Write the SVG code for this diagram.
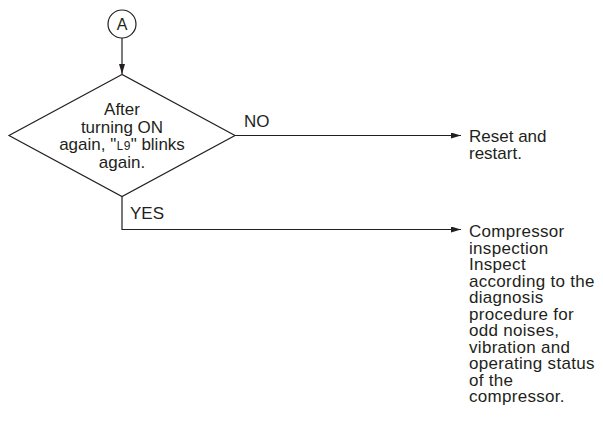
<svg xmlns="http://www.w3.org/2000/svg" width="603" height="425" viewBox="0 0 603 425">
<style>
text { font-family: "Liberation Sans", Arial, sans-serif; font-size: 17px; fill: #231f20; }
.c { text-anchor: middle; }
.ln { fill: none; stroke: #231f20; stroke-width: 1.2; }
</style>
<defs>
<marker id="ah" markerWidth="10" markerHeight="6" refX="10" refY="3" orient="auto" markerUnits="userSpaceOnUse">
<path d="M0,0 L10,3 L0,6 Z" fill="#231f20"/>
</marker>
</defs>
<rect width="603" height="425" fill="#ffffff"/>
<g id="connA">
<circle class="ln" cx="122" cy="24" r="14"/>
<text class="c" x="122" y="30" style="font-size:16px">A</text>
</g>
<g id="decision">
<polygon class="ln" points="122,74.5 9,135.5 122,196.5 235,135.5"/>
<text class="c" x="122" y="115">After</text>
<text class="c" x="122" y="132.5">turning ON</text>
<text class="c" x="122" y="150">again, "<tspan style="font-size:12px;font-family:'Liberation Mono',monospace">L9</tspan>" blinks</text>
<text class="c" x="122" y="167.5">again.</text>
</g>
<g id="reset">
<text x="469" y="142">Reset and</text>
<text x="469" y="159">restart.</text>
</g>
<g id="compressor" style="letter-spacing:0.3px">
<text x="469" y="237">Compressor</text>
<text x="469" y="253.5">inspection</text>
<text x="469" y="270">Inspect</text>
<text x="469" y="286.5">according to the</text>
<text x="469" y="303">diagnosis</text>
<text x="469" y="319.5">procedure for</text>
<text x="469" y="336">odd noises,</text>
<text x="469" y="352.5">vibration and</text>
<text x="469" y="369">operating status</text>
<text x="469" y="385.5">of the</text>
<text x="469" y="402">compressor.</text>
</g>
<g id="connectors">
<line class="ln" x1="122" y1="38" x2="122" y2="74" marker-end="url(#ah)"/>
<line class="ln" x1="235" y1="135.5" x2="461" y2="135.5" marker-end="url(#ah)"/>
<polyline class="ln" points="122,196.5 122,229.5 461,229.5" marker-end="url(#ah)"/>
<text x="244" y="127">NO</text>
<text x="130" y="218.5">YES</text>
</g>
</svg>
